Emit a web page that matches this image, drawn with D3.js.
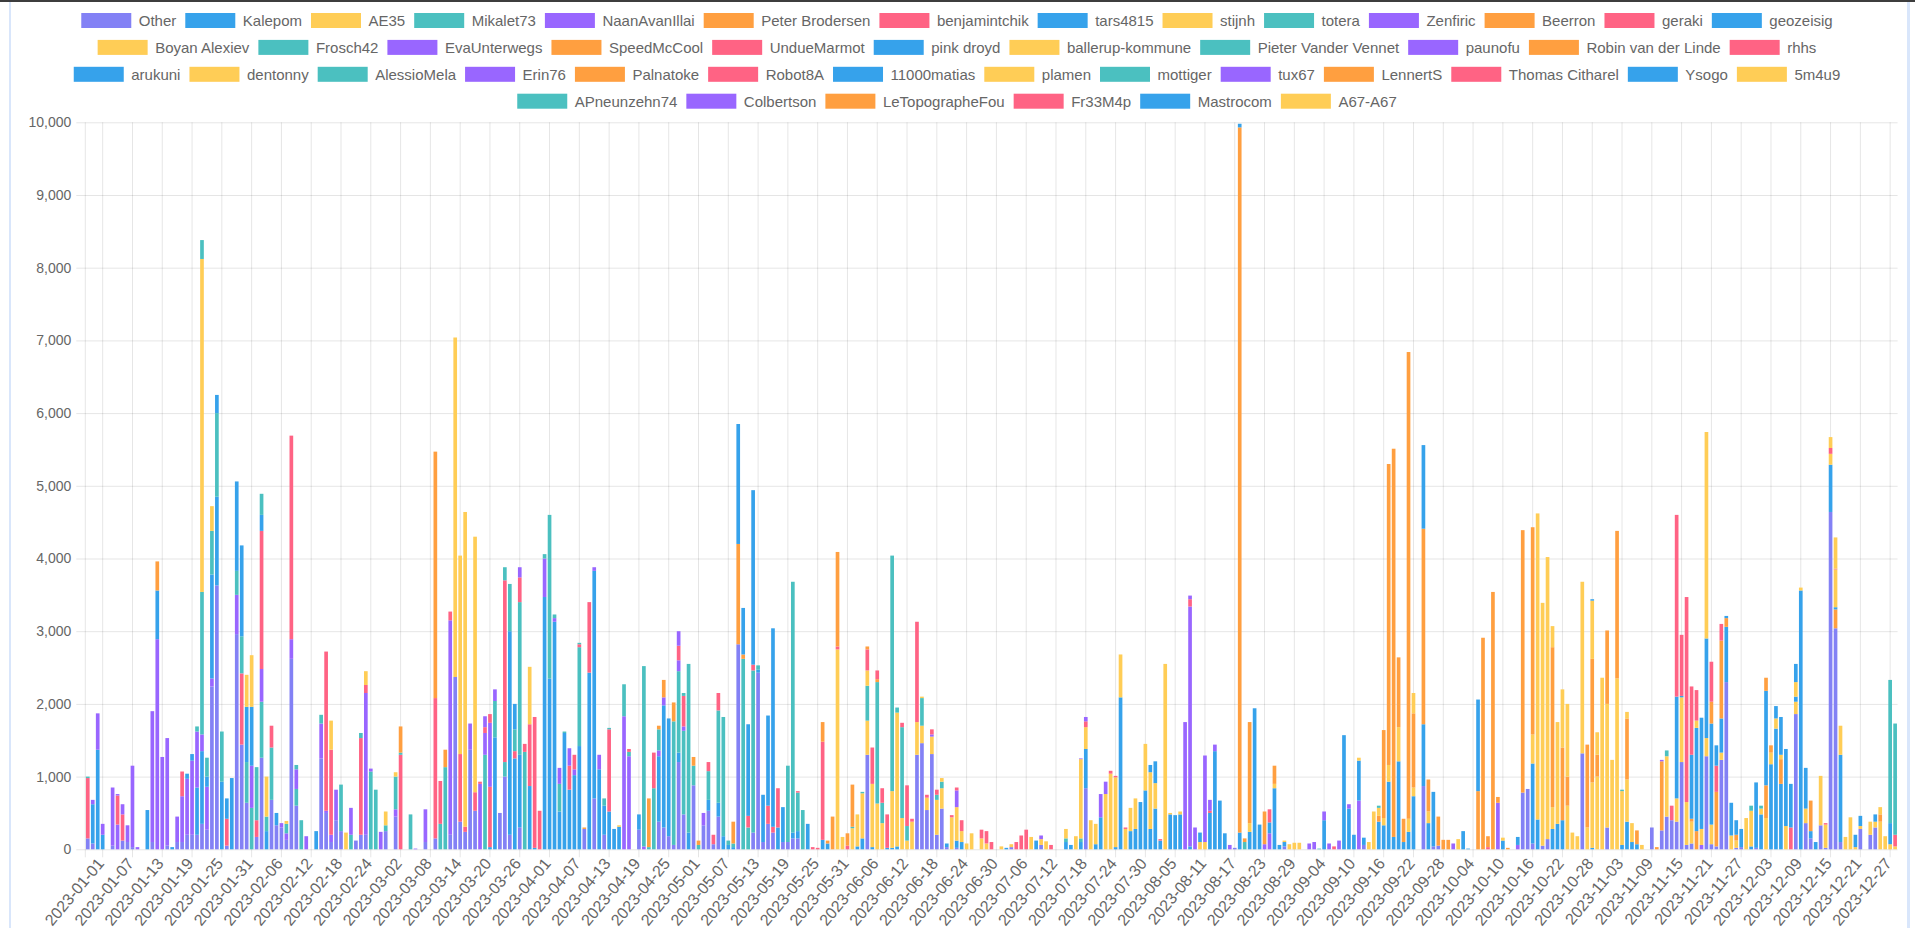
<!DOCTYPE html>
<html>
<head>
<meta charset="utf-8">
<script src="https://cdn.jsdelivr.net/npm/d3@7"></script>
<style>
  html, body { margin: 0; padding: 0; background: #fff; overflow: hidden; }
  svg { display: block; font-family: "Liberation Sans", Arial, Helvetica, sans-serif; }
</style>
</head>
<body>
<svg id="chart" width="1915" height="928"></svg>
<script>
// ---- data ----
const contributors = ["Other","Kalepom","AE35","Mikalet73","NaanAvanIllai","Peter Brodersen","benjamintchik","tars4815","stijnh","totera","Zenfiric","Beerron","geraki","geozeisig","Boyan Alexiev","Frosch42","EvaUnterwegs","SpeedMcCool","UndueMarmot","pink droyd","ballerup-kommune","Pieter Vander Vennet","paunofu","Robin van der Linde","rhhs","arukuni","dentonny","AlessioMela","Erin76","Palnatoke","Robot8A","11000matias","plamen","mottiger","tux67","LennertS","Thomas Citharel","Ysogo","5m4u9","APneunzehn74","Colbertson","LeTopographeFou","Fr33M4p","Mastrocom","A67-A67"];

// one bar per day, 2022-12-29 .. 2023-12-28
const categories = d3.timeDay.range(new Date(2022, 11, 29), new Date(2023, 11, 29)).map(d3.timeFormat("%Y-%m-%d"));

const tickLabels = ["2023-01-01","2023-01-07","2023-01-13","2023-01-19","2023-01-25","2023-01-31","2023-02-06","2023-02-12","2023-02-18","2023-02-24","2023-03-02","2023-03-08","2023-03-14","2023-03-20","2023-03-26","2023-04-01","2023-04-07","2023-04-13","2023-04-19","2023-04-25","2023-05-01","2023-05-07","2023-05-13","2023-05-19","2023-05-25","2023-05-31","2023-06-06","2023-06-12","2023-06-18","2023-06-24","2023-06-30","2023-07-06","2023-07-12","2023-07-18","2023-07-24","2023-07-30","2023-08-05","2023-08-11","2023-08-17","2023-08-23","2023-08-29","2023-09-04","2023-09-10","2023-09-16","2023-09-22","2023-09-28","2023-10-04","2023-10-10","2023-10-16","2023-10-22","2023-10-28","2023-11-03","2023-11-09","2023-11-15","2023-11-21","2023-11-27","2023-12-03","2023-12-09","2023-12-15","2023-12-21","2023-12-27"];

const yTicks = [0,1000,2000,3000,4000,5000,6000,7000,8000,9000,10000];

// [day index, edits]
const other = [[0,150],[1,80],[5,50],[7,120],[8,100],[9,30],[13,100],[16,50],[18,100],[19,100],[20,200],[21,200],[22,200],[23,350],[24,270],[25,2240],[26,3630],[28,50],[30,2960],[31,1440],[32,640],[34,170],[35,1260],[37,680],[38,330],[39,300],[40,130],[41,2620],[42,600],[47,1250],[48,500],[49,100],[50,400],[51,250],[54,120],[55,200],[56,200],[60,250],[62,450],[68,100],[70,150],[73,200],[74,2370],[75,380],[76,240],[77,1370],[78,530],[83,500],[84,1000],[85,200],[87,300],[100,280],[102,700],[104,200],[111,270],[115,380],[116,300],[117,180],[118,60],[119,1200],[120,480],[122,880],[124,330],[125,530],[126,70],[127,450],[131,2820],[134,230],[135,2430],[136,100],[137,350],[138,230],[140,100],[141,100],[142,150],[143,150],[157,1300],[167,1300],[168,1460],[169,540],[170,1310],[171,200],[172,560],[173,30],[175,20],[186,30],[192,60],[201,840],[231,20],[241,40],[257,60],[269,870],[271,40],[272,50],[289,780],[290,830],[291,80],[293,50],[294,140],[301,1320],[306,300],[315,300],[317,260],[318,450],[319,400],[320,380],[321,1200],[322,60],[323,80],[326,1280],[327,70],[328,40],[329,1230],[330,2300],[332,20],[333,30],[336,20],[344,1860],[346,360],[347,150],[349,330],[350,20],[351,4640],[352,3040],[353,100],[357,280],[359,200],[360,300]];
const kalepom = [[1,540],[2,1370],[3,200],[12,540],[17,30],[22,650],[23,1000],[26,1220],[27,930],[29,980],[36,250],[38,170],[46,250],[81,30],[82,1540],[85,2800],[86,1250],[87,1000],[89,870],[90,20],[92,3470],[93,2350],[94,3130],[95,520],[96,1600],[97,820],[98,1020],[99,1420],[101,2430],[102,3130],[103,1100],[104,400],[105,520],[106,280],[107,310],[111,210],[115,900],[116,1680],[117,1620],[119,130],[121,230],[125,150],[127,190],[128,180],[129,60],[130,30],[135,40],[136,650],[139,300],[140,480],[142,80],[143,100],[145,350],[148,130],[149,80],[155,40],[156,150],[158,30],[161,20],[162,20],[163,40],[173,50],[175,100],[176,100],[185,20],[191,120],[197,100],[198,60],[200,100],[201,540],[203,70],[204,440],[207,30],[208,2090],[210,250],[211,280],[212,650],[213,810],[214,280],[215,560],[216,120],[218,480],[219,470],[220,480],[222,40],[226,500],[227,1350],[228,670],[229,220],[232,230],[234,240],[235,1940],[236,340],[239,840],[240,60],[241,60],[249,400],[253,1570],[254,560],[255,200],[257,100],[260,380],[261,330],[262,930],[263,170],[264,1210],[265,100],[266,240],[267,730],[269,850],[270,360],[271,750],[277,250],[278,10],[285,120],[291,1100],[292,410],[295,280],[296,350],[297,400],[303,20],[309,60],[310,380],[311,100],[312,70],[330,760],[333,250],[335,40],[336,900],[337,480],[339,1170],[340,1660],[341,900],[345,3560],[347,100],[348,100],[351,650],[353,1200]];
const ae35 = [[52,230],[74,4670],[107,20],[151,2750],[152,170],[154,290],[155,440],[156,620],[157,470],[158,870],[159,630],[160,360],[162,780],[163,1840],[164,430],[165,120],[166,380],[167,450],[168,240],[169,170],[170,240],[171,480],[172,280],[174,440],[175,460],[176,150],[177,80],[178,220],[180,150],[181,80],[184,40],[186,40],[190,170],[192,80],[193,110],[199,180],[201,300],[202,400],[203,280],[205,760],[206,1040],[207,960],[208,590],[209,280],[210,320],[211,420],[213,640],[214,780],[215,350],[217,2550],[218,20],[220,40],[224,100],[225,100],[234,120],[239,60],[241,20],[242,70],[243,90],[244,90],[258,100],[259,520],[261,100],[262,230],[264,470],[266,180],[267,120],[270,160],[276,140],[285,40],[291,400],[292,4210],[293,3340],[294,3880],[295,300],[296,1400],[298,600],[299,230],[300,180],[301,2360],[302,300],[303,900],[304,1000],[305,2360],[306,1700],[307,1230],[308,2350],[309,740],[310,580],[311,260],[313,60],[318,830],[320,320],[321,890],[322,590],[323,300],[326,250],[327,270],[329,100],[331,190],[332,100],[334,430],[335,490],[337,80],[338,430],[339,160],[340,140],[342,320],[344,170],[345,40],[346,200],[349,680],[350,320],[351,150],[353,400],[354,170],[355,440],[356,30],[357,40],[359,180],[360,80],[361,380],[362,180],[363,70],[364,40]];
const mikalet73 = [[26,1150],[27,690],[32,560],[33,570],[35,770],[36,200],[37,720],[42,230],[43,400],[51,640],[53,200],[57,1070],[58,820],[60,80],[65,480],[71,350],[72,1130],[80,1300],[82,500],[84,200],[85,650],[87,2100],[88,1340],[93,2250],[95,380],[96,20],[99,1360],[104,100],[113,30],[114,840],[118,1700],[119,1120],[120,1150],[121,2320],[122,270],[123,60],[125,395],[127,1270],[128,1640],[129,60],[130,50],[132,2620],[133,300],[134,2230],[135,60],[141,1050],[142,3450],[143,530],[144,540],[154,20],[156,20],[157,480],[159,1670],[160,280],[162,3240],[163,70],[164,1250],[165,200],[168,380],[171,70],[172,90],[197,50],[200,50],[233,100],[248,10],[309,20],[318,80],[335,70],[337,40]];
const naanAvanIllai = [[1,60],[2,500],[3,150],[5,800],[6,340],[8,230],[9,1120],[10,30],[13,1800],[14,2890],[15,1270],[16,1480],[18,350],[19,630],[20,770],[21,1020],[22,770],[23,230],[24,590],[25,110],[30,540],[33,580],[35,450],[39,60],[40,90],[41,270],[42,270],[44,180],[47,480],[48,30],[49,100],[50,420],[53,370],[56,1950],[57,40],[59,240],[62,100],[66,10],[68,450],[73,2950],[77,360],[79,900],[80,300],[82,160],[92,530],[94,50],[95,220],[98,80],[102,50],[103,200],[108,1830],[109,1280],[112,40],[115,80],[116,110],[119,150],[120,60],[124,170],[170,30],[175,230],[192,50],[204,320],[205,170],[221,1750],[222,3300],[223,300],[225,1190],[227,90],[230,60],[237,70],[238,220],[246,80],[247,100],[249,120],[250,80],[252,120],[254,60],[256,670],[275,80],[284,640],[288,60],[325,60]];
const peterBrodersen = [[72,240],[100,20],[113,670],[116,240],[118,260],[122,120],[123,60],[130,300],[131,1380],[132,60],[149,40],[150,450],[154,580],[159,40],[232,9700],[233,50],[234,1390],[237,450],[239,250],[260,80],[261,1210],[262,4140],[263,5340],[264,960],[265,320],[266,6420],[267,1020],[269,2690],[270,440],[272,400],[273,130],[274,130],[280,800],[281,2910],[283,3540],[284,80],[286,20],[289,3610],[291,2850],[295,2200],[297,1000],[298,400],[302,1140],[303,1700],[304,300],[306,1010],[308,2030],[310,840],[312,190],[316,30],[317,950],[323,40],[324,250],[328,750],[330,120],[332,80],[338,450],[339,100],[341,340],[347,420],[352,260],[361,100]];
const benjamintchik = [[0,830],[6,400],[7,360],[19,340],[28,370],[31,980],[34,230],[35,1900],[37,300],[41,2800],[48,2190],[49,1170],[55,1330],[56,110],[63,1300],[70,1930],[71,590],[73,120],[75,930],[76,70],[78,255],[79,30],[80,80],[81,830],[84,2500],[86,100],[87,340],[88,110],[89,850],[90,1800],[91,530],[97,330],[98,200],[99,40],[101,970],[105,1130],[114,490],[119,200],[120,420],[125,125],[126,130],[127,240],[133,160],[134,80],[137,250],[138,80],[139,540],[143,20],[146,30],[147,20],[148,1350],[151,40],[153,50],[158,500],[159,120],[160,200],[161,460],[164,60],[165,560],[166,40],[167,1380],[169,40],[170,70],[171,70],[174,30],[175,40],[176,150],[180,120],[181,170],[182,100],[187,100],[188,190],[189,270],[194,60],[201,80],[206,40],[207,20],[209,20],[216,20],[222,100],[226,30],[251,40],[282,30],[319,200],[322,2820],[328,360],[343,300],[350,20],[351,80],[364,160]];
const tars4815 = [[14,670],[20,70],[21,90],[24,140],[25,1430],[26,250],[28,280],[32,760],[33,810],[35,220],[131,1650],[132,640],[133,1260],[134,2400],[137,1240],[138,2730],[214,100],[215,300],[224,130],[232,50],[238,150],[256,550],[269,1150],[280,1260],[288,110],[320,1400],[321,20],[323,880],[324,1420],[326,1370],[327,1390],[328,280],[329,470],[330,30],[331,450],[332,200],[338,1300],[340,170],[342,1060],[343,600],[344,70],[346,560],[352,30],[356,170],[357,140],[360,100],[363,290]];
const stijnh = [[32,440],[33,710],[36,550],[49,400],[56,190],[60,190],[75,2730],[76,4330],[78,3515],[89,790],[157,210],[168,20],[172,50],[197,130],[200,1090],[256,40],[260,110],[267,280],[295,290],[297,800],[298,1000],[303,800],[304,310],[310,90],[324,100],[325,220],[326,2840],[341,60],[344,200],[351,150],[352,520],[361,100]];
const totera = [[0,20],[22,70],[23,1960],[24,260],[25,600],[30,330],[31,510],[34,730],[35,290],[40,130],[42,60],[47,120],[55,70],[62,450],[63,30],[84,180],[86,300],[92,60],[94,50],[99,20],[105,20],[108,440],[109,60],[112,2480],[115,290],[120,40],[260,30],[363,1970],[364,1530]];
const zenfiric = [[6,20],[7,140],[80,150],[81,880],[87,140],[97,240],[119,200],[200,10],[201,60],[222,50],[226,150],[317,20]];
const beerron = [[14,400],[63,360],[70,3390],[115,50],[148,270],[151,1300],[153,170],[282,150],[327,300],[329,1070],[338,180]];
const geraki = [[81,120],[109,40],[157,290],[238,180],[320,2500],[321,840],[323,940],[324,420],[327,550],[329,230],[352,10]];
const geozeisig = [[30,1230],[31,1250],[86,350],[303,20],[325,1530],[341,520],[344,250]];
const boyanAlexiev = [[23,4580],[25,340],[40,40],[62,60],[352,430]];
const frosch42 = [[23,260]];
const speedMcCool = [[157,40]];

// ---- setup ----
const W = 1915, H = 928;
const plot = {left: 85.3, right: 1897.6, top: 122.3, bottom: 849.3};
const otherColor = "#8381f5";
const palette = ["#36a2eb", "#ffcd56", "#4bc0c0", "#9966ff", "#ff9f40", "#ff6384"];
const colorOf = i => i === 0 ? otherColor : palette[(i - 1) % 6];

const seriesData = {
  "Other": other, "Kalepom": kalepom, "AE35": ae35, "Mikalet73": mikalet73,
  "NaanAvanIllai": naanAvanIllai, "Peter Brodersen": peterBrodersen,
  "benjamintchik": benjamintchik, "tars4815": tars4815, "stijnh": stijnh,
  "totera": totera, "Zenfiric": zenfiric, "Beerron": beerron, "geraki": geraki,
  "geozeisig": geozeisig, "Boyan Alexiev": boyanAlexiev, "Frosch42": frosch42,
  "SpeedMcCool": speedMcCool
};

// table for d3.stack
const rows = categories.map(c => {
  const r = {date: c};
  contributors.forEach(n => r[n] = 0);
  return r;
});
contributors.forEach(n => {
  (seriesData[n] || []).forEach(([i, v]) => { rows[i][n] = v; });
});
const stacked = d3.stack().keys(contributors)(rows);

const x = d3.scaleBand()
  .domain(categories)
  .range([plot.left, plot.right])
  .paddingInner(0.26)
  .paddingOuter(0.13);

const y = d3.scaleLinear()
  .domain([0, 10000])
  .range([plot.bottom, plot.top]);

const svg = d3.select("#chart");

// page frame bits
svg.append("rect").attr("x", 0).attr("y", 0).attr("width", W).attr("height", 2).attr("fill", "#3d3d3d");
svg.append("rect").attr("x", 9).attr("y", 2).attr("width", 2).attr("height", H).attr("fill", "#d9e6fb");
svg.append("rect").attr("x", 1907).attr("y", 2).attr("width", 3).attr("height", H).attr("fill", "#d9e6fb");

// y axis + horizontal grid
const gy = svg.append("g")
  .attr("transform", `translate(${plot.left - 9},0)`)
  .call(d3.axisLeft(y)
    .tickValues(yTicks)
    .tickFormat(d3.format(","))
    .tickSizeInner(-(plot.right - plot.left + 9))
    .tickSizeOuter(0)
    .tickPadding(5));
gy.attr("font-size", 14).attr("font-family", null);
gy.select(".domain").remove();
gy.selectAll("line").attr("stroke", "rgba(0,0,0,0.1)");
gy.selectAll("text").attr("fill", "#666");

// x axis + vertical grid
const gx = svg.append("g")
  .attr("transform", `translate(0,${plot.bottom + 8})`)
  .call(d3.axisBottom(x)
    .tickValues(tickLabels)
    .tickSizeInner(-(plot.bottom + 8 - plot.top))
    .tickSizeOuter(0));
gx.attr("font-size", 16).attr("font-family", null);
gx.select(".domain").remove();
gx.selectAll("line").attr("stroke", "rgba(0,0,0,0.1)");
gx.selectAll("text")
  .attr("fill", "#666")
  .attr("y", null)
  .attr("dy", null)
  .attr("text-anchor", "end")
  .attr("dominant-baseline", "middle")
  .attr("transform", "translate(-1,4) rotate(-50)");

// left border of the plot
svg.append("line")
  .attr("x1", plot.left).attr("x2", plot.left)
  .attr("y1", plot.top).attr("y2", plot.bottom + 8)
  .attr("stroke", "rgba(0,0,0,0.1)");

// bars
svg.append("g")
  .selectAll("g")
  .data(stacked)
  .join("g")
    .attr("fill", (d, i) => colorOf(i))
  .selectAll("rect")
  .data(d => d.filter(s => s[1] - s[0] > 0))
  .join("rect")
    .attr("x", d => x(d.data.date))
    .attr("width", x.bandwidth())
    .attr("y", d => y(d[1]))
    .attr("height", d => y(d[0]) - y(d[1]));

// legend
const legendRows = [14, 11, 14, 6];
const legend = svg.append("g").attr("font-size", 15).attr("fill", "#666");
let start = 0;
legendRows.forEach((count, r) => {
  const names = contributors.slice(start, start + count);
  const idx0 = start;
  start += count;
  const cy = 20.5 + r * 26.9;
  const row = legend.append("g");
  let cx = 0;
  names.forEach((n, k) => {
    const item = row.append("g").attr("transform", `translate(${cx},0)`);
    item.append("rect")
      .attr("x", 0).attr("y", cy - 7.5)
      .attr("width", 50).attr("height", 15)
      .attr("fill", colorOf(idx0 + k));
    const t = item.append("text")
      .attr("x", 57.5).attr("y", cy)
      .attr("dominant-baseline", "central")
      .text(n);
    cx += 57.5 + t.node().getComputedTextLength() + 9;
  });
  const total = cx - 9;
  row.attr("transform", `translate(${957 - total / 2},0)`);
});
</script>
</body>
</html>
